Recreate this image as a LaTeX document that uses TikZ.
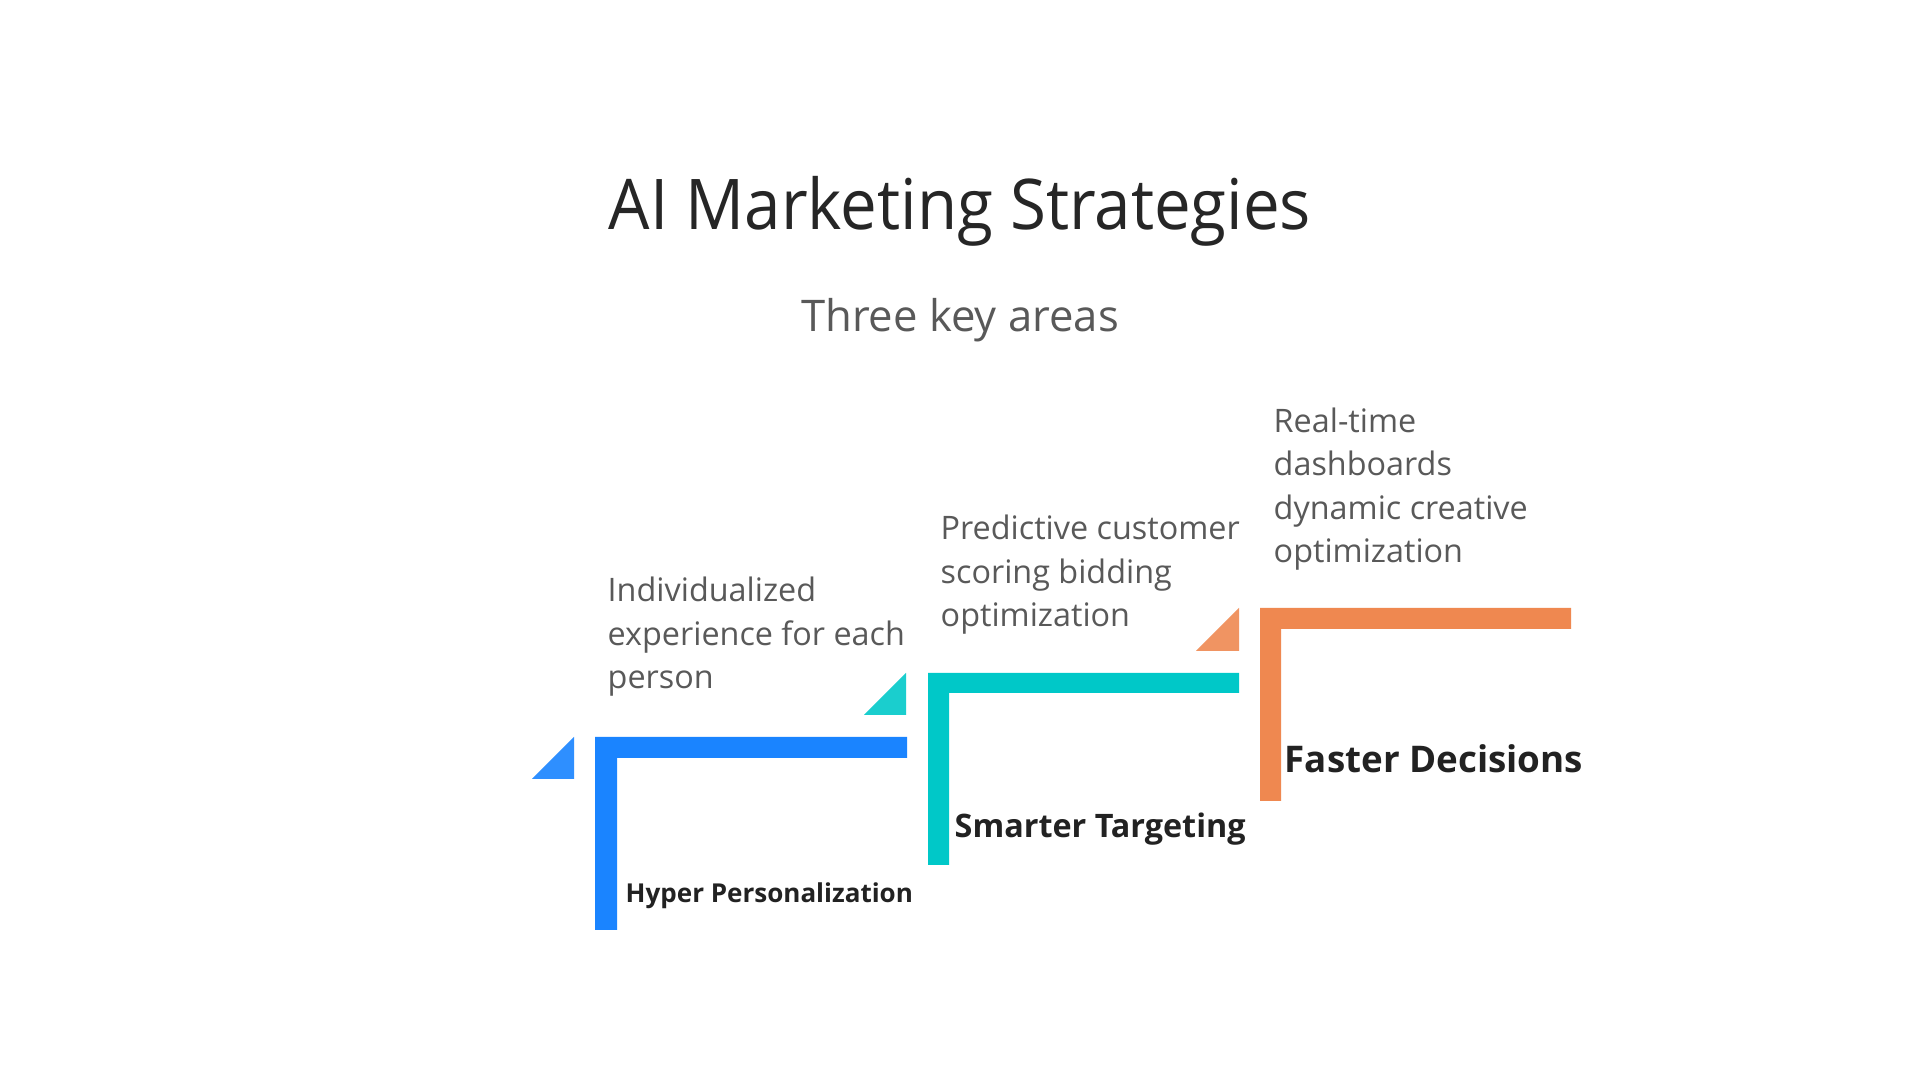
\documentclass[tikz,border=0pt]{standalone}
\usepackage{fontspec}
\setmainfont{Open Sans}
\newfontfamily\headfont[FakeStretch=0.935]{Open Sans}
\usetikzlibrary{positioning}
\definecolor{stepblue}{HTML}{1A84FF}
\definecolor{stepbluetri}{HTML}{2E8FFF}
\definecolor{stepteal}{HTML}{00C8C8}
\definecolor{steptealtri}{HTML}{1ACECE}
\definecolor{steporange}{HTML}{EF8850}
\definecolor{steporangetri}{HTML}{F09462}
\definecolor{headgray}{HTML}{262626}
\definecolor{bodygray}{HTML}{595959}
\definecolor{labelgray}{HTML}{222222}

\begin{document}
\begin{tikzpicture}[
    x=0.01cm, y=-0.01cm,
    headline/.style={font=\headfont\fontsize{19.9}{24}\selectfont, text=headgray, inner sep=0pt, anchor=base},
    subline/.style={font=\fontsize{12.4}{15}\selectfont, text=bodygray, inner sep=0pt, anchor=base},
    desc/.style={font=\fontsize{9.2}{12.4}\selectfont, text=bodygray, align=left, inner sep=0pt, anchor=base west},
    steplabel/.style={font=\bfseries, text=labelgray, inner sep=0pt, anchor=base west},
    stair/.style={fill=#1},
    corner/.style={fill=#1}
]
\fill[white] (0,0) rectangle (1920,1080);
\useasboundingbox (0,0) rectangle (1920,1080);

% title
\node[headline] (head) at (960,230) {AI Marketing Strategies};
\node[subline] (sub) at (960,332) {Three key areas};

% step 1 (desc nodes sit on their last baseline)
\fill[stair=stepblue] (595,737) -- ++(312,0) -- ++(0,21) -- ++(-290,0) -- ++(0,172) -- ++(-22,0) -- cycle;
\fill[corner=stepbluetri] (532,779) -- (574,779) -- (574,737) -- cycle;
\node[desc] (hyperdesc) at (607,689) {Individualized\\experience for each\\person};
\node[steplabel, font=\bfseries\fontsize{7.4}{9}\selectfont] (hyper) at (625,903) {Hyper Personalization};

% step 2
\fill[stair=stepteal] (928,673) -- ++(311,0) -- ++(0,20) -- ++(-290,0) -- ++(0,172) -- ++(-21,0) -- cycle;
\fill[corner=steptealtri] (864,715) -- (906,715) -- (906,673) -- cycle;
\node[desc] (smartdesc) at (940,627) {Predictive customer\\scoring bidding\\optimization};
\node[steplabel, font=\bfseries\fontsize{9.2}{11}\selectfont] (smart) at (954,838) {Smarter Targeting};

% step 3
\fill[stair=steporange] (1260,608) -- ++(311,0) -- ++(0,21) -- ++(-290,0) -- ++(0,172) -- ++(-21,0) -- cycle;
\fill[corner=steporangetri] (1196,651) -- (1239,651) -- (1239,608) -- cycle;
\node[desc] (fastdesc) at (1273,563) {Real-time\\dashboards\\dynamic creative\\optimization};
\node[steplabel, font=\bfseries\fontsize{10.45}{12}\selectfont] (fast) at (1284,773) {Faster Decisions};
\end{tikzpicture}
\end{document}
